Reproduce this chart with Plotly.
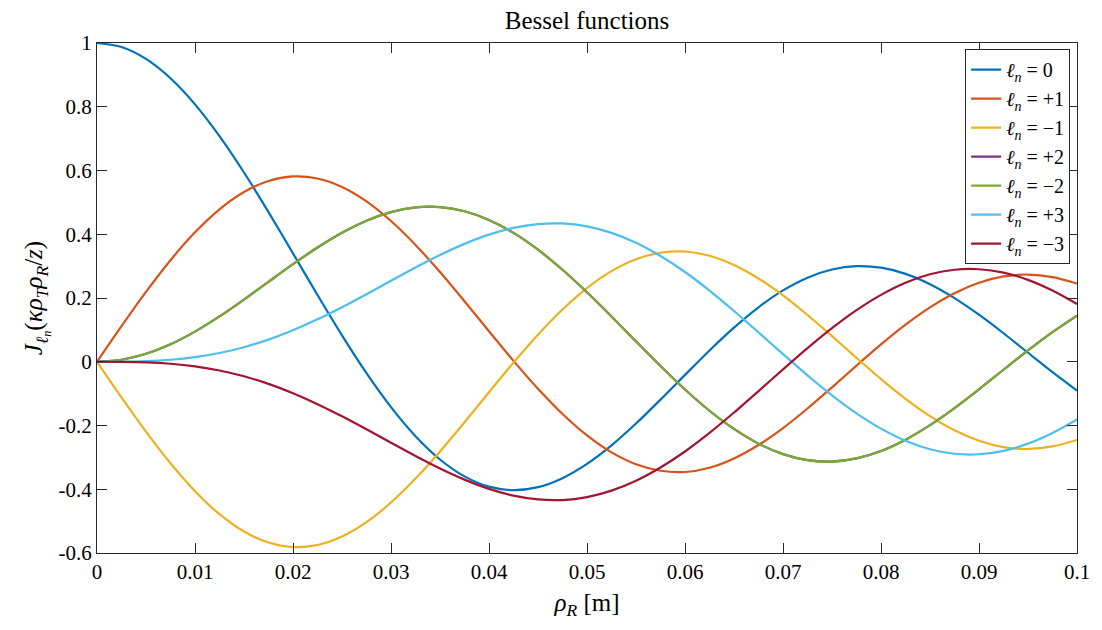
import plotly.graph_objects as go

# Receiver radius [m]
rho_R = [0.0, 0.0025, 0.005, 0.0075, 0.01, 0.0125, 0.015, 0.0175, 0.02, 0.0225,
         0.025, 0.0275, 0.03, 0.0325, 0.035, 0.0375, 0.04, 0.0425, 0.045, 0.0475,
         0.05, 0.0525, 0.055, 0.0575, 0.06, 0.0625, 0.065, 0.0675, 0.07, 0.0725,
         0.075, 0.0775, 0.08, 0.0825, 0.085, 0.0875, 0.09, 0.0925, 0.095, 0.0975, 0.1]

# Bessel function values for each orbital index l_n
J_0 = [1.0, 0.98738, 0.95001, 0.88930, 0.80752, 0.70776, 0.59372, 0.46962, 0.33999, 0.20949,
       0.08275, -0.03588, -0.14245, -0.23359, -0.30662, -0.35968, -0.39177, -0.40275, -0.39338, -0.36521,
       -0.32054, -0.26229, -0.19383, -0.11886, -0.04121, 0.03543, 0.10707, 0.17083, 0.22381, 0.26385,
       0.28946, 0.29987, 0.29507, 0.27577, 0.24336, 0.19979, 0.14752, 0.08941, 0.02826, -0.03261, -0.09033]
J_p1 = [0.0, 0.11179, 0.21935, 0.31864, 0.40595, 0.47808, 0.53247, 0.56729, 0.58152, 0.57499,
        0.54838, 0.50320, 0.44160, 0.36655, 0.28129, 0.18966, 0.09547, 0.00272, -0.08488, -0.16379,
        -0.23106, -0.28423, -0.32155, -0.34201, -0.34596, -0.33265, -0.30343, -0.26128, -0.20809, -0.14671,
        -0.08030, -0.01221, 0.05431, 0.11617, 0.17049, 0.21494, 0.24760, 0.26762, 0.27363, 0.26573, 0.24531]
J_m1 = [0.0, -0.11179, -0.21935, -0.31864, -0.40595, -0.47808, -0.53247, -0.56729, -0.58152, -0.57499,
        -0.54838, -0.50320, -0.44160, -0.36655, -0.28129, -0.18966, -0.09547, -0.00272, 0.08488, 0.16379,
        0.23106, 0.28423, 0.32155, 0.34201, 0.34596, 0.33265, 0.30343, 0.26128, 0.20809, 0.14671,
        0.08030, 0.01221, -0.05431, -0.11617, -0.17049, -0.21494, -0.24760, -0.26762, -0.27363, -0.26573, -0.24531]
J_p2 = [0.0, 0.00630, 0.02489, 0.05482, 0.09459, 0.14217, 0.19512, 0.25075, 0.30614, 0.35840,
        0.40470, 0.44251, 0.46956, 0.48422, 0.48522, 0.47208, 0.44481, 0.40417, 0.35146, 0.28858,
        0.21785, 0.14198, 0.06391, -0.01332, -0.08692, -0.15371, -0.21081, -0.25684, -0.28987, -0.30882,
        -0.31325, -0.30337, -0.27998, -0.24448, -0.19879, -0.14520, -0.08638, -0.02511, 0.03575, 0.09318, 0.14485]
J_m2 = [0.0, 0.00630, 0.02489, 0.05482, 0.09459, 0.14217, 0.19512, 0.25075, 0.30614, 0.35840,
        0.40470, 0.44251, 0.46956, 0.48422, 0.48522, 0.47208, 0.44481, 0.40417, 0.35146, 0.28858,
        0.21785, 0.14198, 0.06391, -0.01332, -0.08692, -0.15371, -0.21081, -0.25684, -0.28987, -0.30882,
        -0.31325, -0.30337, -0.27998, -0.24448, -0.19879, -0.14520, -0.08638, -0.02511, 0.03575, 0.09318, 0.14485]
J_p3 = [0.0, 0.00024, 0.00187, 0.00623, 0.01443, 0.02739, 0.04568, 0.06953, 0.09880, 0.13296,
        0.17109, 0.21196, 0.25404, 0.29563, 0.33486, 0.36983, 0.39876, 0.41995, 0.43200, 0.43381,
        0.42470, 0.40443, 0.37320, 0.33172, 0.28157, 0.22335, 0.15929, 0.09216, 0.02404, -0.04260,
        -0.10533, -0.16176, -0.20986, -0.24788, -0.27443, -0.28869, -0.29026, -0.27968, -0.25691, -0.22326, -0.18094]
J_m3 = [0.0, -0.00024, -0.00187, -0.00623, -0.01443, -0.02739, -0.04568, -0.06953, -0.09880, -0.13296,
        -0.17109, -0.21196, -0.25404, -0.29563, -0.33486, -0.36983, -0.39876, -0.41995, -0.43200, -0.43381,
        -0.42470, -0.40443, -0.37320, -0.33172, -0.28157, -0.22335, -0.15929, -0.09216, -0.02404, 0.04260,
        0.10533, 0.16176, 0.20986, 0.24788, 0.27443, 0.28869, 0.29026, 0.27968, 0.25691, 0.22326, 0.18094]

labels = ["0", "+1", "\u22121", "+2", "\u22122", "+3", "\u22123"]
series = [J_0, J_p1, J_m1, J_p2, J_m2, J_p3, J_m3]
colors = ["#0072BD", "#D95319", "#EDB120", "#7E2F8E", "#77AC30", "#4DBEEE", "#A2142F"]

x_ticks = [0, 0.01, 0.02, 0.03, 0.04, 0.05, 0.06, 0.07, 0.08, 0.09, 0.1]
x_ticktext = ["0", "0.01", "0.02", "0.03", "0.04", "0.05", "0.06", "0.07", "0.08", "0.09", "0.1"]
y_ticks = [-0.6, -0.4, -0.2, 0, 0.2, 0.4, 0.6, 0.8, 1]
y_ticktext = ["-0.6", "-0.4", "-0.2", "0", "0.2", "0.4", "0.6", "0.8", "1"]

FONT = "Liberation Serif, DejaVu Serif, Times New Roman, serif"
AXC = "#262626"

fig = go.Figure()
for lab, ys, col in zip(labels, series, colors):
    fig.add_trace(go.Scatter(
        x=rho_R, y=ys, mode="lines",
        line=dict(color=col, width=2.2, shape="spline", smoothing=0.8),
        name="<i>\u2113</i><sub><i>n</i></sub> = " + lab,
    ))

fig.update_layout(
    width=1102, height=630,
    margin=dict(l=97, r=21, t=43, b=77),
    paper_bgcolor="white", plot_bgcolor="white",
    font=dict(family=FONT, size=21, color="black"),
    title=dict(text="Bessel functions", x=0.5, xref="paper", y=0.968, yref="container",
               xanchor="center", yanchor="middle", font=dict(family=FONT, size=25, color="black")),
    showlegend=True,
    legend=dict(x=0.993, y=0.988, xanchor="right", yanchor="top",
                bgcolor="white", bordercolor=AXC, borderwidth=1,
                font=dict(family=FONT, size=20, color="black"),
                itemwidth=30, tracegroupgap=0),
)

fig.update_xaxes(
    range=[0, 0.1], tickvals=x_ticks, ticktext=x_ticktext,
    ticks="inside", ticklen=10, tickwidth=1, tickcolor=AXC,
    showline=True, linecolor=AXC, linewidth=1, mirror="allticks",
    showgrid=False, zeroline=False,
    tickfont=dict(family=FONT, size=21, color="black"),
    title=dict(text="<i>\u03c1</i><sub><i>R</i></sub> [m]", standoff=10,
               font=dict(family=FONT, size=25, color="black")),
)
fig.update_yaxes(
    range=[-0.6, 1], tickvals=y_ticks, ticktext=y_ticktext,
    ticks="inside", ticklen=10, tickwidth=1, tickcolor=AXC,
    showline=True, linecolor=AXC, linewidth=1, mirror="allticks",
    showgrid=False, zeroline=False,
    tickfont=dict(family=FONT, size=21, color="black"),
    title=dict(text="<i>J</i><sub><i>\u2113</i><sub><i>n</i></sub></sub>(<i>\u03ba\u03c1</i><sub><i>T</i></sub><i>\u03c1</i><sub><i>R</i></sub>/<i>z</i>)",
               standoff=8, font=dict(family=FONT, size=25, color="black")),
)

fig.write_html("out.html")
